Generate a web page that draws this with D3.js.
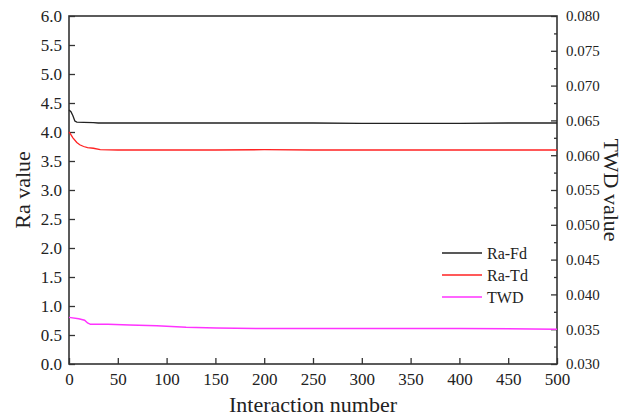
<!DOCTYPE html>
<html><head><meta charset="utf-8">
<script src="https://cdn.jsdelivr.net/npm/d3@7"></script>
<style>body{margin:0;background:#fff}svg{display:block}svg text{font-family:'Liberation Serif','Times New Roman',serif !important}</style>
</head><body>
<svg id="c" width="628" height="420"></svg>
<script>
const raFdIter = [0, 2, 4, 6, 8, 15, 25, 30, 60, 100, 150, 200, 250, 300, 350, 400, 450, 500];
const raFdVal  = [4.38, 4.35, 4.28, 4.19, 4.17, 4.167, 4.16, 4.155, 4.155, 4.155, 4.155, 4.155, 4.155, 4.15, 4.15, 4.15, 4.155, 4.155];
const raTdIter = [0, 1, 4, 8, 11, 15, 19, 25, 32, 50, 100, 150, 200, 250, 300, 350, 400, 450, 500];
const raTdVal  = [4.0, 3.98, 3.9, 3.82, 3.78, 3.75, 3.73, 3.72, 3.695, 3.69, 3.69, 3.69, 3.695, 3.69, 3.69, 3.69, 3.69, 3.69, 3.69];
const twdIter = [0, 10, 16, 19, 22, 40, 62, 90, 120, 151, 200, 300, 400, 500];
const twdVal  = [0.0367, 0.0365, 0.0363, 0.0359, 0.0357, 0.0357, 0.0356, 0.0355, 0.03527, 0.03517, 0.0351, 0.0351, 0.0351, 0.0350];
const xTicks = [0, 50, 100, 150, 200, 250, 300, 350, 400, 450, 500];
const yLeftTicks = [0, 0.5, 1, 1.5, 2, 2.5, 3, 3.5, 4, 4.5, 5, 5.5, 6];
const yRightTicks = [0.030, 0.035, 0.040, 0.045, 0.050, 0.055, 0.060, 0.065, 0.070, 0.075, 0.080];
const yRightMinor = [0.0325, 0.0375, 0.0425, 0.0475, 0.0525, 0.0575, 0.0625, 0.0675, 0.0725, 0.0775];
const legendNames = ["Ra-Fd", "Ra-Td", "TWD"];
const colors = ["#222222", "#ff2222", "#ff33ff"];

const L = 69, R = 557, T = 16, B = 364;
const svg = d3.select("#c");
const font = "'Liberation Serif', 'Times New Roman', serif";
const x = d3.scaleLinear().domain([0, 500]).range([L, R]);
const yL = d3.scaleLinear().domain([0, 6]).range([B, T]);
const yR = d3.scaleLinear().domain([0.030, 0.080]).range([B, T]);

const axisColor = "#333";
function style(g, size) {
  g.attr("font-family", font).attr("font-size", size);
  g.select(".domain").remove();
  g.selectAll("line").attr("stroke", axisColor).attr("stroke-width", 1.3);
  g.selectAll("text").style("font-family", font).attr("font-size", size).attr("fill", "#222");
}
// bottom axis
svg.append("g").attr("transform", `translate(0,${B})`)
  .call(d3.axisBottom(x).tickValues(xTicks).tickFormat(d3.format("d")).tickSizeInner(-6).tickPadding(9))
  .call(g => style(g, 17));
// left axis
svg.append("g").attr("transform", `translate(${L},0)`)
  .call(d3.axisLeft(yL).tickValues(yLeftTicks).tickFormat(d3.format(".1f")).tickSizeInner(-6).tickPadding(7))
  .call(g => style(g, 17));
// right axis
svg.append("g").attr("transform", `translate(${R},0)`)
  .call(d3.axisRight(yR).tickValues(yRightTicks).tickFormat(d3.format(".3f")).tickSizeInner(-6).tickPadding(9))
  .call(g => style(g, 15));
svg.append("g").attr("transform", `translate(${R},0)`)
  .call(d3.axisRight(yR).tickValues(yRightMinor).tickFormat("").tickSizeInner(-3))
  .call(g => style(g, 15));
// frame
svg.append("rect").attr("x", L).attr("y", T).attr("width", R - L).attr("height", B - T)
  .attr("fill", "none").attr("stroke", axisColor).attr("stroke-width", 1.6);

// lines
const lineL = d3.line().x(d => x(d[0])).y(d => yL(d[1]));
const lineR = d3.line().x(d => x(d[0])).y(d => yR(d[1]));
svg.append("path").datum(raFdIter.map((d, i) => [d, raFdVal[i]])).attr("d", lineL)
  .attr("fill", "none").attr("stroke", colors[0]).attr("stroke-width", 1.3);
svg.append("path").datum(raTdIter.map((d, i) => [d, raTdVal[i]])).attr("d", lineL)
  .attr("fill", "none").attr("stroke", colors[1]).attr("stroke-width", 1.3);
svg.append("path").datum(twdIter.map((d, i) => [d, twdVal[i]])).attr("d", lineR)
  .attr("fill", "none").attr("stroke", colors[2]).attr("stroke-width", 1.5);

// legend
const lg = svg.append("g");
legendNames.forEach((n, i) => {
  const yy = 253 + i * 22;
  lg.append("line").attr("x1", 442).attr("x2", 482).attr("y1", yy).attr("y2", yy)
    .attr("stroke", colors[i]).attr("stroke-width", 1.3);
  lg.append("text").attr("x", 487).attr("y", yy).attr("dy", "0.35em")
    .attr("font-family", font).attr("font-size", 16).attr("fill", "#222").text(n);
});

// titles
svg.append("text").attr("x", (L + R) / 2).attr("y", 412).attr("text-anchor", "middle")
  .attr("font-family", font).attr("font-size", 22).attr("fill", "#222").text("Interaction number");
svg.append("text").attr("transform", `translate(22,${(T + B) / 2}) rotate(-90)`).attr("text-anchor", "middle")
  .attr("dy", "0.35em").attr("font-family", font).attr("font-size", 22).attr("fill", "#222").text("Ra value");
svg.append("text").attr("transform", `translate(612,${(T + B) / 2}) rotate(90)`).attr("text-anchor", "middle")
  .attr("dy", "0.35em").attr("font-family", font).attr("font-size", 22).attr("fill", "#222").text("TWD value");
</script>
</body></html>
